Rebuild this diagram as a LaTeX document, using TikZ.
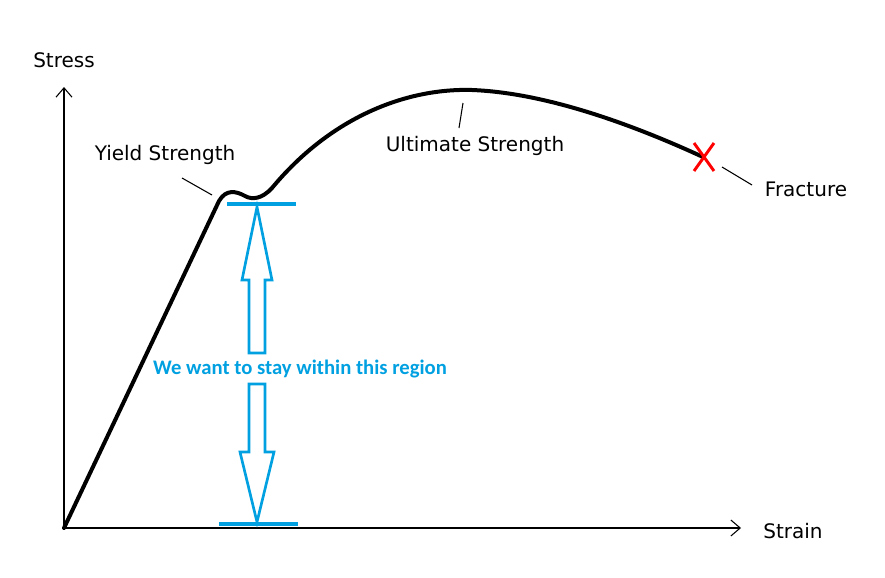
\documentclass[tikz,border=0pt]{standalone}
\usepackage{fontspec}
\setmainfont{DejaVu Sans}
\newfontfamily\carl{Carlito}
\usetikzlibrary{arrows.meta,calc}
\definecolor{myblue}{RGB}{0,160,225}
\begin{document}
\begin{tikzpicture}[x=0.75pt,y=-0.75pt,
  lbl/.style={font=\fontsize{15}{17}\selectfont, inner sep=0pt},
  ax/.style={line width=0.8pt,-{Straight Barb[length=7pt,width=12pt]}},
  lead/.style={line width=0.8pt},
  bl/.style={myblue,line width=2.6pt},
  harrow/.style={myblue,line width=2pt,fill=white}]
\useasboundingbox (0,0) rectangle (885,578);
\coordinate (o) at (64,528);
\coordinate (ytop) at (64,87);
\coordinate (xend) at (741,528);
\draw[ax] (o) -- (ytop);
\draw[ax] (o) -- (xend);
\node[lbl] (stress) at (64,60) {Stress};
\node[lbl] (strain) at (793,531) {Strain};
% curve
\draw[line width=3pt,line cap=round,line join=round] (o) -- (219,201)
  .. controls (226,189) and (236,191) .. (245,196)
  .. controls (252,200) and (262,199) .. (272,188)
  .. controls (330,118) and (405,88) .. (472,90)
  .. controls (550,93) and (640,128) .. (703,157);
% fracture X
\coordinate (fx) at (704,157);
\draw[red,line width=2.2pt] ($(fx)+(-10,-14)$) -- ($(fx)+(10,14)$);
\draw[red,line width=2.2pt] ($(fx)+(10,-14)$) -- ($(fx)+(-10,14)$);
\node[lbl] (frac) at (806,189) {Fracture};
\coordinate (f1) at (722,167); \coordinate (f2) at (752,185);
\draw[lead] (f1) -- (f2);
\node[lbl] (yield) at (165,155) {Yield Strength};
\coordinate (y1) at (182,178); \coordinate (y2) at (212,195);
\draw[lead] (y1) -- (y2);
\node[lbl] (ult) at (475,146) {Ultimate Strength};
\coordinate (u1) at (463,103); \coordinate (u2) at (459,128);
\draw[lead] (u1) -- (u2);
% blue
\coordinate (t1) at (227,204); \coordinate (t2) at (296,204);
\coordinate (b1) at (219,524); \coordinate (b2) at (298,524);
\draw[bl] (t1) -- (t2);
\draw[bl] (b1) -- (b2);
\draw[harrow] (249,353) -- (249,280) -- (242,280) -- (257,207) -- (272,280) -- (265,280) -- (265,353) -- cycle;
\draw[harrow] (249,384) -- (249,452) -- (240,452) -- (257,522) -- (274,452) -- (265,452) -- (265,384) -- cycle;
\node[myblue,font=\carl\bfseries\fontsize{15.5}{17}\selectfont,inner sep=0pt] (region) at (300,369) {We want to stay within this region};
\end{tikzpicture}
\end{document}
